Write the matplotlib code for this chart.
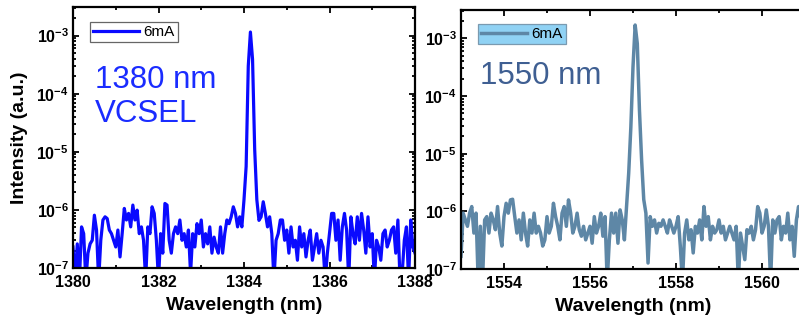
import numpy as np
import matplotlib
matplotlib.use("Agg")
import matplotlib.pyplot as plt
from matplotlib.ticker import FixedLocator, LogLocator, FuncFormatter, NullFormatter

plt.rcParams['font.family'] = ['Liberation Sans', 'DejaVu Sans']
plt.rcParams['mathtext.fontset'] = 'custom'
plt.rcParams['mathtext.rm'] = 'Liberation Sans'
plt.rcParams['mathtext.bf'] = 'Liberation Sans:bold'

# ---------------- data ----------------
left_range = (1380.0, 1388.0)
left_intensity = [
    2.3e-7, 6e-8, 2.6e-7, 6e-8, 5.1e-7, 3.9e-7, 6e-8, 1.8e-7, 2.6e-7, 3.0e-7,
    8.1e-7, 4.5e-7, 6e-8, 3.0e-7, 6.7e-7, 7.6e-7, 7.1e-7, 4.5e-7, 3.9e-7, 3.0e-7,
    2.3e-7, 4.5e-7, 1.55e-7, 3.9e-7, 1.06e-6, 6.7e-7, 8.7e-7, 5.1e-7, 1.21e-6, 6.7e-7,
    9.9e-7, 3.9e-7, 5.1e-7, 3.0e-7, 6e-8, 5.1e-7, 3.9e-7, 1.13e-6, 8.7e-7, 3.0e-7,
    6e-8, 3.9e-7, 1.8e-7, 1.29e-6, 1.21e-6, 3.0e-7, 1.8e-7, 3.9e-7, 5.1e-7, 3.9e-7,
    6.7e-7, 3.0e-7, 3.9e-7, 2.3e-7, 4.5e-7, 8e-8, 3.9e-7, 2.3e-7, 5.8e-7, 3.9e-7,
    6.7e-7, 2.3e-7, 3.9e-7, 2.6e-7, 5.1e-7, 1.8e-7, 3.4e-7, 2.3e-7, 1.8e-7, 5.1e-7,
    1.8e-7, 3.9e-7, 6.7e-7, 5.8e-7, 7.6e-7, 1.13e-6, 8.7e-7, 5.1e-7, 7.6e-7, 5.1e-7,
    1.5e-6, 5.6e-6, 3.0e-4, 1.15e-3, 3.9e-4, 1.1e-5, 1.5e-6, 6.6e-7, 7.6e-7, 1.38e-6,
    8.7e-7, 5.1e-7, 7.6e-7, 3.9e-7, 6e-8, 3.0e-7, 3.9e-7, 6.7e-7, 6.7e-7, 3.0e-7,
    4.5e-7, 1.8e-7, 5.1e-7, 2.3e-7, 3.0e-7, 1.36e-7, 5.1e-7, 2.3e-7, 3.9e-7, 1.55e-7,
    3.0e-7, 4.5e-7, 1.36e-7, 2.3e-7, 3.9e-7, 1.8e-7, 3.0e-7, 2.3e-7, 6e-8, 1.8e-7,
    3.9e-7, 8.7e-7, 8.7e-7, 3.0e-7, 6.7e-7, 1.36e-7, 5.1e-7, 8.7e-7, 4.5e-7, 6e-8,
    7.6e-7, 3.9e-7, 2.6e-7, 7.6e-7, 3.0e-7, 8.7e-7, 4.5e-7, 1.8e-7, 7.6e-7, 2.3e-7,
    3.9e-7, 6e-8, 3.0e-7, 2.3e-7, 1.36e-7, 3.9e-7, 4.5e-7, 2.3e-7, 3.0e-7, 4.5e-7,
    5.1e-7, 1.8e-7, 6.7e-7, 6e-8, 8e-8, 3.0e-7, 5.1e-7, 6e-8, 6.7e-7, 2.3e-7,
    1.8e-7,
]

right_range = (1553.0, 1561.0)
right_intensity = [
    1.66e-7, 9.3e-7, 7.1e-7, 5.5e-7, 9.3e-7, 1.21e-6, 4.2e-7, 9.3e-7, 6e-8, 5.5e-7,
    6e-8, 7.1e-7, 8.1e-7, 4.2e-7, 9.3e-7, 7.1e-7, 4.8e-7, 1.21e-6, 4.2e-7, 2.5e-7,
    8.1e-7, 1.38e-6, 9.3e-7, 1.58e-6, 1.62e-6, 8.1e-7, 4.2e-7, 7.1e-7, 3.2e-7, 9.3e-7,
    4.2e-7, 2.5e-7, 7.1e-7, 4.2e-7, 9.3e-7, 4.2e-7, 5.5e-7, 4.2e-7, 2.5e-7, 3.2e-7,
    8.1e-7, 4.2e-7, 5.5e-7, 1.38e-6, 8.1e-7, 5.5e-7, 3.2e-7, 9.3e-7, 1.21e-6, 5.5e-7,
    1.58e-6, 9.3e-7, 4.2e-7, 5.5e-7, 9.3e-7, 4.8e-7, 3.7e-7, 5.5e-7, 3.2e-7, 4.2e-7,
    5.5e-7, 2.8e-7, 8.1e-7, 4.2e-7, 5.5e-7, 9.3e-7, 3.7e-7, 8.1e-7, 6e-8, 3.2e-7,
    9.3e-7, 4.2e-7, 9.3e-7, 2.8e-7, 1.06e-6, 7.1e-7, 3.2e-7, 1.21e-6, 4.6e-6, 2.9e-5,
    3.2e-4, 1.7e-3, 8.1e-4, 5.7e-5, 7.8e-6, 1.6e-6, 9.3e-7, 1.27e-7, 8.1e-7, 5.5e-7,
    7.1e-7, 4.2e-7, 6.2e-7, 5.5e-7, 7.1e-7, 5.5e-7, 4.2e-7, 7.1e-7, 5.5e-7, 4.2e-7,
    5.5e-7, 8.1e-7, 2.5e-7, 6e-8, 4.2e-7, 7.1e-7, 3.2e-7, 4.8e-7, 1.9e-7, 5.5e-7,
    4.2e-7, 7.1e-7, 3.2e-7, 1.21e-6, 5.5e-7, 8.1e-7, 3.2e-7, 5.5e-7, 4.2e-7, 4.8e-7,
    7.1e-7, 4.2e-7, 5.5e-7, 3.2e-7, 4.2e-7, 5.5e-7, 4.2e-7, 3.2e-7, 5.5e-7, 6e-8,
    4.2e-7, 2.5e-7, 1.45e-7, 4.8e-7, 4.2e-7, 5.5e-7, 3.2e-7, 4.8e-7, 1.21e-6, 9.3e-7,
    4.2e-7, 5.5e-7, 1.06e-6, 5.5e-7, 6e-8, 7.1e-7, 4.2e-7, 7.1e-7, 8.1e-7, 3.2e-7,
    5.5e-7, 4.2e-7, 9.3e-7, 3.2e-7, 5.5e-7, 1.66e-7, 7.1e-7, 1.21e-6, 7.1e-7, 5.5e-7,
    4.2e-7,
]

series_label = "6mA"
left_note = "1380 nm\nVCSEL"
right_note = "1550 nm"
left_major_xticks = [1380, 1382, 1384, 1386, 1388]
right_major_xticks = [1554, 1556, 1558, 1560]
y_limits = (1e-7, 3.1e-3)

left_x = np.linspace(left_range[0], left_range[1], len(left_intensity))
right_x = np.linspace(right_range[0], right_range[1], len(right_intensity))

# ---------------- figure ----------------
W, H = 799, 320
fig = plt.figure(figsize=(W / 100, H / 100), dpi=100)
fig.patch.set_facecolor('white')

def fx(px):
    return px / W

def fy(py):
    return 1 - py / H

ax1 = fig.add_axes([fx(73), fy(268), fx(415) - fx(73), fy(7) - fy(268)])
ax2 = fig.add_axes([fx(461), fy(269), fx(805) - fx(461), fy(10) - fy(269)])

def sci_fmt(v, pos):
    e = int(round(np.log10(v)))
    return r'$\mathbf{10^{%d}}$' % e

def style(ax, xlim, majors):
    ax.set_yscale('log')
    ax.set_xlim(*xlim)
    ax.set_ylim(*y_limits)
    ax.xaxis.set_major_locator(FixedLocator(majors))
    ax.xaxis.set_minor_locator(FixedLocator(np.arange(xlim[0], xlim[1] + 0.5, 1.0)))
    ax.yaxis.set_major_locator(LogLocator(base=10, numticks=10))
    ax.yaxis.set_minor_locator(LogLocator(base=10, subs=np.arange(2, 10), numticks=10))
    ax.yaxis.set_major_formatter(FuncFormatter(sci_fmt))
    ax.yaxis.set_minor_formatter(NullFormatter())
    ax.tick_params(which='both', direction='in', top=True, right=True, width=1.3)
    ax.tick_params(which='major', length=4.5, labelsize=11.5)
    ax.tick_params(axis='x', which='major', pad=5)
    ax.tick_params(axis='y', which='major', pad=3)
    ax.tick_params(which='minor', length=2.5)
    for lab in ax.get_xticklabels():
        lab.set_fontweight('bold')
    for s in ax.spines.values():
        s.set_linewidth(1.6)
    ax.set_xlabel("Wavelength (nm)", fontsize=14, fontweight='bold', labelpad=5)

style(ax1, left_range, left_major_xticks)
style(ax2, right_range, right_major_xticks)

ax1.plot(left_x, left_intensity, color='#0a0aff', lw=2.3, label=series_label)
ax2.plot(right_x, right_intensity, color='#5e87a6', lw=2.5, label=series_label)

ax1.set_ylabel("Intensity (a.u.)", fontsize=14, fontweight='bold', labelpad=6)

leg1 = ax1.legend(loc='upper left', bbox_to_anchor=(0.05, 0.943), fontsize=11,
                  handlelength=3.0, handletextpad=0.3, borderpad=0.2,
                  borderaxespad=0, fancybox=False, framealpha=1,
                  edgecolor='#666666')
leg1.get_frame().set_linewidth(0.9)
leg2 = ax2.legend(loc='upper left', bbox_to_anchor=(0.049, 0.946), fontsize=11,
                  handlelength=3.0, handletextpad=0.3, borderpad=0.2,
                  borderaxespad=0, fancybox=False, framealpha=1,
                  edgecolor='#7a9ab0', facecolor='#90d2f4')
leg2.get_frame().set_linewidth(0.9)

ax1.text(0.065, 0.655, left_note, transform=ax1.transAxes, fontsize=22.5,
         color='#1a2cff', va='center', ha='left', linespacing=1.2)
ax2.text(0.055, 0.745, right_note, transform=ax2.transAxes, fontsize=22.5,
         color='#3f5f92', va='center', ha='left')

fig.savefig("out.png", dpi=100, facecolor='white')
